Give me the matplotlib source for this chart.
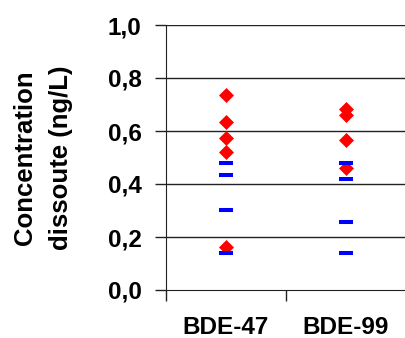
from matplotlib import pyplot as plt
import numpy as np

# ------- Data -----------------------------
categories = ['BDE-47', 'BDE-99']
# red diamonds
diamonds_bde47 = [0.736, 0.635, 0.575, 0.521, 0.163]
diamonds_bde99 = [0.682, 0.660, 0.567, 0.459]
# blue dashes
dashes_bde47 = [0.478, 0.433, 0.302, 0.141]
dashes_bde99 = [0.478, 0.418, 0.255, 0.141]
yticks = [0.0, 0.2, 0.4, 0.6, 0.8, 1.0]
ytick_labels = ['0,0', '0,2', '0,4', '0,6', '0,8', '1,0']

SIZEPLT = 17.5
plt.rc('font', family='Liberation Sans', weight='bold', size=SIZEPLT)
plt.rc('axes', labelweight='bold')

fig = plt.figure(figsize=(4.06, 3.38), dpi=100)
ax = fig.add_axes([166/406, 1-290/338, 1-166/406, 265/338])

xpos = np.arange(1, len(categories)+1)
for x, vals in zip(xpos, [diamonds_bde47, diamonds_bde99]):
    ax.plot([x]*len(vals), vals, linestyle='none', marker='D', markersize=7.2,
            color='#ff0000', markeredgewidth=0.5, zorder=3)
for x, vals in zip(xpos, [dashes_bde47, dashes_bde99]):
    ax.plot([x]*len(vals), vals, linestyle='none', marker='_', markersize=10,
            color='#0000ff', markeredgewidth=2.9, zorder=3)

ax.set_xlim(0.5, 0.5 + 240/122)
ax.set_ylim(0, 1.0)

# grid lines
for y in yticks[1:]:
    ax.axhline(y, color='#222222', linewidth=1.0, zorder=1)

ax.set_yticks(yticks)
ax.set_yticklabels(ytick_labels)
ax.tick_params(axis='y', length=8, width=1, pad=9.5, color='#222222')

ax.set_xticks(xpos)
ax.set_xticklabels(categories)
ax.set_xticks([0.5, 1.5, 2.5], minor=True)
ax.tick_params(axis='x', which='major', length=0, pad=18.5)
ax.tick_params(axis='x', which='minor', length=8, width=1, color='#222222')

for s in ['top', 'right']:
    ax.spines[s].set_visible(False)
ax.spines['left'].set_color('#222222')
ax.spines['bottom'].set_color('#222222')

ax.set_ylabel('Concentration\ndissoute (ng/L)', fontsize=18.5, fontweight='bold',
              va='center', linespacing=1.65)
ax.yaxis.set_label_coords((43-166)/240, 0.5)

plt.savefig('out.png', dpi=100)
